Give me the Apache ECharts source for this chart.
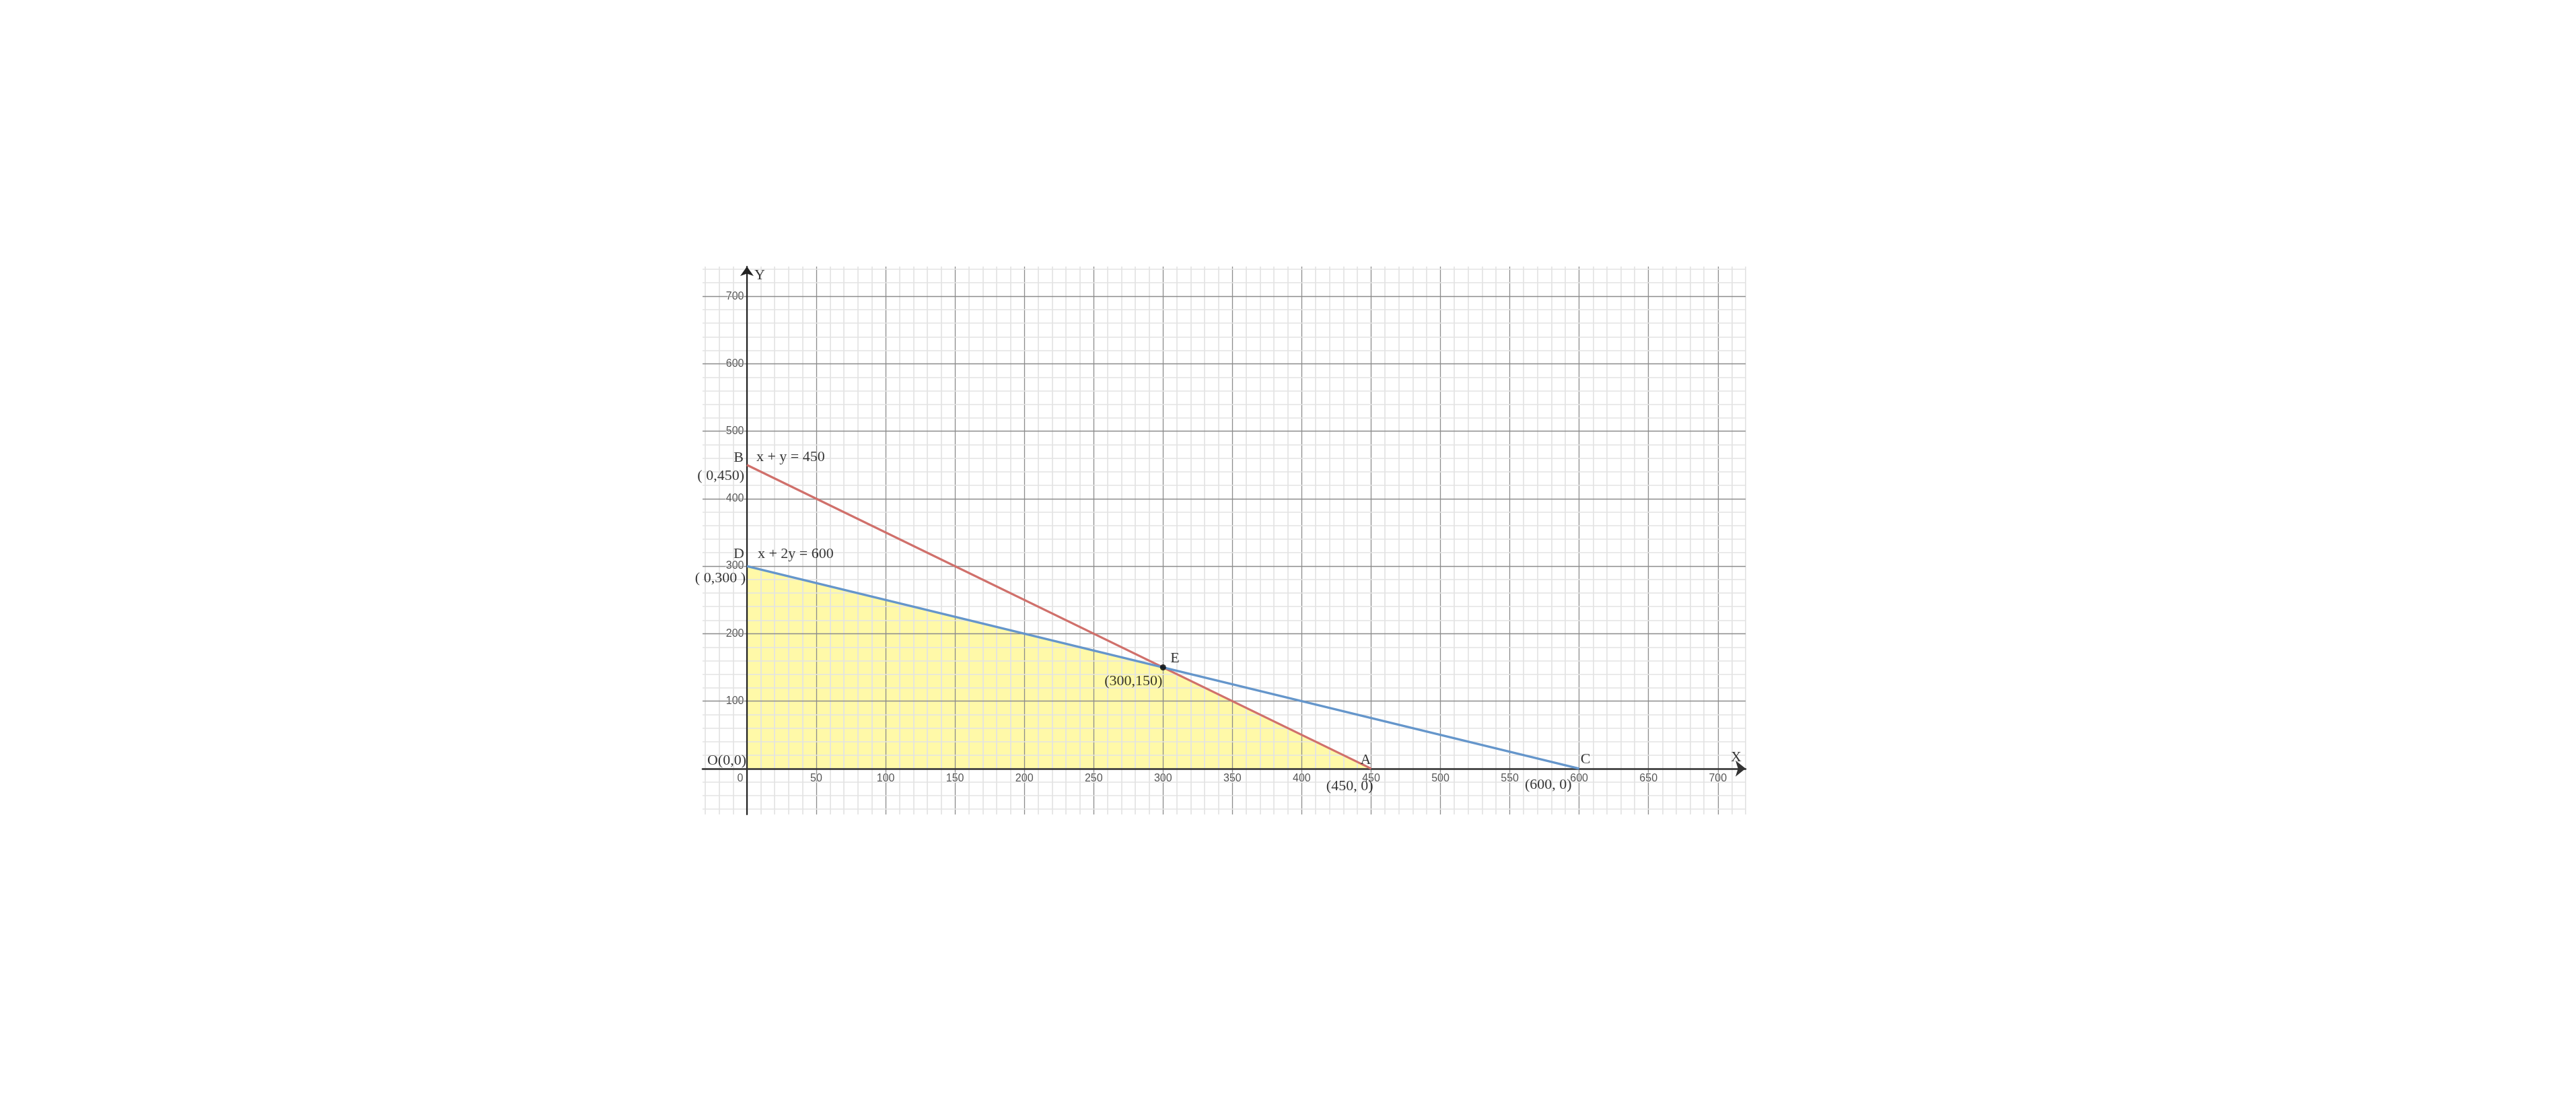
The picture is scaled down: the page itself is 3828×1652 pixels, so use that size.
<!DOCTYPE html>
<html>
<head>
<meta charset="utf-8">
<script src="https://cdn.jsdelivr.net/npm/echarts@6/dist/echarts.min.js"></script>
<style>
html,body{margin:0;padding:0;background:#fff;}
#chart{width:3828px;height:1652px;}
</style>
</head>
<body>
<div id="chart"></div>
<script>
// ---- data ----
const xTickLabels = [0,50,100,150,200,250,300,350,400,450,500,550,600,650,700];
const yTickLabels = [100,200,300,400,500,600,700];
const lineRed = [[0,450],[450,0]];        // x + y = 450
const lineBlue = [[0,300],[600,0]];       // x + 2y = 600
const feasibleRegion = [[0,300],[300,150],[450,0]];
const pointE = [[300,150]];
const annotationTexts = ['B','x + y = 450','( 0,450)','D','x + 2y = 600','( 0,300 )','E','(300,150)','A','(450, 0)','C','(600, 0)','O(0,0)','X','Y'];
const annotationCoords = [[0,450],[0,450],[0,450],[0,300],[0,300],[0,300],[300,150],[300,150],[450,0],[450,0],[600,0],[600,0],[0,0],[720,0],[0,744]];

// ---- styles (positions relative to anchors, in px) ----
const annStyle = [
  {align:'right', offset:[-5,-11]},
  {align:'left',  offset:[14,-12]},
  {align:'right', offset:[-4,16]},
  {align:'right', offset:[-4,-18]},
  {align:'left',  offset:[16,-18]},
  {align:'right', offset:[-2,18.5]},
  {align:'left',  offset:[11,-13]},
  {align:'right', offset:[-1,21]},
  {align:'right', offset:[0,-13]},
  {align:'right', offset:[3,26.5]},
  {align:'left',  offset:[2,-13.5]},
  {align:'right', offset:[-11,24.5]},
  {align:'right', offset:[-1,-11.5]},
  {align:'right', offset:[-6,-16.5]},
  {align:'left',  offset:[11,13]}
];

const X_MIN = -32, X_MAX = 720, Y_MIN = -68, Y_MAX = 744;
const MINOR = '#e3e3e3', MAJOR = '#8c8c8c';

const gridLines = [];
for (let v = -30; v <= 720; v += 10) {
  gridLines.push({xAxis: v, lineStyle: {color: v % 50 === 0 ? MAJOR : MINOR, width: v % 50 === 0 ? 1.3 : 1.7, type: 'solid'}});
}
for (let v = -60; v <= 740; v += 20) {
  gridLines.push({yAxis: v, lineStyle: {color: v % 100 === 0 ? MAJOR : MINOR, width: v % 100 === 0 ? 1.3 : 1.7, type: 'solid'}});
}

const serifLabel = (t, s) => ({
  show: true, formatter: t, position: 'inside',
  align: s.align, verticalAlign: 'middle', offset: s.offset,
  fontFamily: 'Liberation Serif', fontSize: 22, color: '#000'
});
const annData = annotationTexts.map((t, i) => ({value: annotationCoords[i], label: serifLabel(t, annStyle[i])}));

const tickFont = {fontFamily: 'Liberation Sans', fontSize: 16, color: '#2a2a2a',
                  textBorderColor: '#fff', textBorderWidth: 1.5};
const xTickData = xTickLabels.map(v => ({
  value: [v, 0],
  label: Object.assign({show: true, formatter: String(v), position: 'inside',
    align: v === 0 ? 'right' : 'center', verticalAlign: 'middle',
    offset: v === 0 ? [-5.5, 14.5] : [0, 14.5]}, tickFont)
}));
const yTickData = yTickLabels.map(v => ({
  value: [0, v],
  label: Object.assign({show: true, formatter: String(v), position: 'inside',
    align: 'right', verticalAlign: 'middle', offset: [-4.5, 0]}, tickFont)
}));

const chart = echarts.init(document.getElementById('chart'));
chart.setOption({
  animation: false,
  backgroundColor: '#fff',
  grid: {left: 1044, right: 1234, top: 396, bottom: 442, containLabel: false},
  xAxis: {
    type: 'value', min: X_MIN, max: X_MAX, z: 3,
    splitLine: {show: false},
    axisTick: {show: false},
    axisLabel: {show: false},
    axisLine: {show: true, onZero: true, symbol: ['none','arrow'], symbolSize: [18,15],
               lineStyle: {color: '#333', width: 2.6}}
  },
  yAxis: {
    type: 'value', min: Y_MIN, max: Y_MAX, z: 3,
    splitLine: {show: false},
    axisTick: {show: false},
    axisLabel: {show: false},
    axisLine: {show: true, onZero: true, symbol: ['none','arrow'], symbolSize: [15,14],
               lineStyle: {color: '#222', width: 2.2}}
  },
  series: [
    {
      type: 'line', data: feasibleRegion, z: 1, symbol: 'none', silent: true,
      lineStyle: {width: 0, opacity: 0},
      areaStyle: {color: '#fff9a8', opacity: 1}
    },
    {
      type: 'scatter', data: [], z: 2, silent: true,
      markLine: {silent: true, z: 2, symbol: ['none','none'], label: {show: false}, animation: false, data: gridLines}
    },
    {
      type: 'scatter', data: xTickData.concat(yTickData), z: 3, symbolSize: 1, silent: true,
      itemStyle: {color: 'rgba(0,0,0,0)'}
    },
    {
      type: 'line', data: lineRed, z: 4, symbol: 'none', silent: true,
      lineStyle: {color: '#d0706b', width: 3.2}
    },
    {
      type: 'line', data: lineBlue, z: 4, symbol: 'none', silent: true,
      lineStyle: {color: '#6596cb', width: 3.4}
    },
    {
      type: 'scatter', data: pointE, z: 5, symbolSize: 9, silent: true,
      itemStyle: {color: '#000'}
    },
    {
      type: 'scatter', data: annData, z: 6, symbolSize: 1, silent: true,
      itemStyle: {color: 'rgba(0,0,0,0)'}
    }
  ]
});
</script>
</body>
</html>
